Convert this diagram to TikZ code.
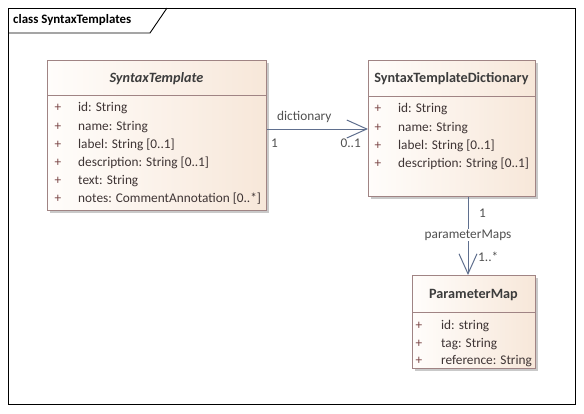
\documentclass[tikz,border=0pt]{standalone}
\usepackage{fontspec}
\setmainfont{Carlito}
\usetikzlibrary{arrows.meta,calc}
\definecolor{boxborder}{HTML}{A08484}
\definecolor{boxlight}{HTML}{FFFDFB}
\definecolor{boxdark}{HTML}{F7E7D9}
\definecolor{shadowc}{HTML}{C9C9C9}
\definecolor{attrtext}{HTML}{3E3434}
\definecolor{plusc}{HTML}{7A4646}
\definecolor{headtext}{HTML}{3C3C3C}
\definecolor{linec}{HTML}{5F6F8E}
\definecolor{labelc}{HTML}{505050}
\tikzset{
  classbox/.style={draw=boxborder, line width=0.9pt, left color=boxlight, right color=boxdark, rectangle, anchor=north west, inner sep=0pt},
  shadowbox/.style={fill=shadowc, draw=none},
  divider/.style={draw=boxborder, line width=0.9pt},
  headtxt/.style={font=\fontsize{14.2}{16}\selectfont\bfseries, text=headtext, inner sep=0pt},
  plustxt/.style={font=\fontsize{13.3}{15}\selectfont, text=plusc, inner sep=0pt},
  attrtxt/.style={font=\fontsize{13.3}{15}\selectfont, text=attrtext, anchor=west, inner sep=0pt},
  assoc/.style={draw=linec, line width=1pt, -{Straight Barb[length=20pt,width=18pt,line width=1pt]}},
  lbl/.style={font=\fontsize{13.3}{15}\selectfont, text=labelc, inner sep=0pt},
}
\begin{document}
\begin{tikzpicture}[x=1pt,y=-1pt]
\useasboundingbox (0,0) rectangle (584,413);
\fill[white] (0,0) rectangle (584,413);
% frame
\draw[black, line width=0.9pt] (8,8) rectangle (575,404);
\draw[black, line width=0.9pt] (8,33) -- (150,33) -- (167,8);
\node[font=\fontsize{12.9}{15}\selectfont\bfseries, anchor=west, inner sep=0pt] (title) at (13,20) {class SyntaxTemplates};

% SyntaxTemplate
\fill[shadowbox] (50,63) rectangle (269,213);
\node[classbox, minimum width=219pt, minimum height=150pt] (st) at (47,60) {};
\draw[divider] (47,95) -- (266,95);
\node[headtxt, font=\fontsize{14.2}{16}\selectfont\bfseries\itshape] (sth) at (156.5,79) {SyntaxTemplate};
\foreach \y/\t [count=\i] in {108/id: String,127/name: String,145/label: String [0..1],163/description: String [0..1],181/text: String,199/notes: CommentAnnotation [0..*]}{
  \node[plustxt] (stp\i) at (58,\y) {+};
  \node[attrtxt] (sta\i) at (78,\y) {\t};
}

% SyntaxTemplateDictionary
\fill[shadowbox] (371,63) rectangle (538,199);
\node[classbox, minimum width=167pt, minimum height=136pt] (std) at (368,60) {};
\draw[divider] (368,96) -- (535,96);
\node[headtxt] (stdh) at (451.5,79) {SyntaxTemplateDictionary};
\foreach \y/\t [count=\i] in {109/id: String,128/name: String,146/label: String [0..1],164/description: String [0..1]}{
  \node[plustxt] (stdp\i) at (378,\y) {+};
  \node[attrtxt] (stda\i) at (398,\y) {\t};
}

% ParameterMap
\fill[shadowbox] (415,278) rectangle (538,371);
\node[classbox, minimum width=123pt, minimum height=93pt] (pm) at (412,275) {};
\draw[divider] (412,312) -- (535,312);
\node[headtxt] (pmh) at (473.5,295) {ParameterMap};
\foreach \y/\t [count=\i] in {326/id: string,344/tag: String,361/reference: String}{
  \node[plustxt] (pmp\i) at (419,\y) {+};
  \node[attrtxt] (pma\i) at (441,\y) {\t};
}

% associations
\draw[assoc] (st.east |- {(0,129)}) -- (std.west |- {(0,129)});
\node[lbl, anchor=west] (l1) at (277,117) {dictionary};
\node[lbl, anchor=west] (l2) at (271,143) {1};
\node[lbl, anchor=east] (l3) at (361,143) {0..1};

\draw[assoc] (std.south -| {(468,0)}) -- (pm.north -| {(468,0)});
\node[lbl, anchor=west] (l4) at (479,213) {1};
\node[lbl, fill=white, inner sep=1pt] (l5) at (468,235) {parameterMaps};
\node[lbl, anchor=west] (l6) at (478,257) {1..*};
\end{tikzpicture}
\end{document}
